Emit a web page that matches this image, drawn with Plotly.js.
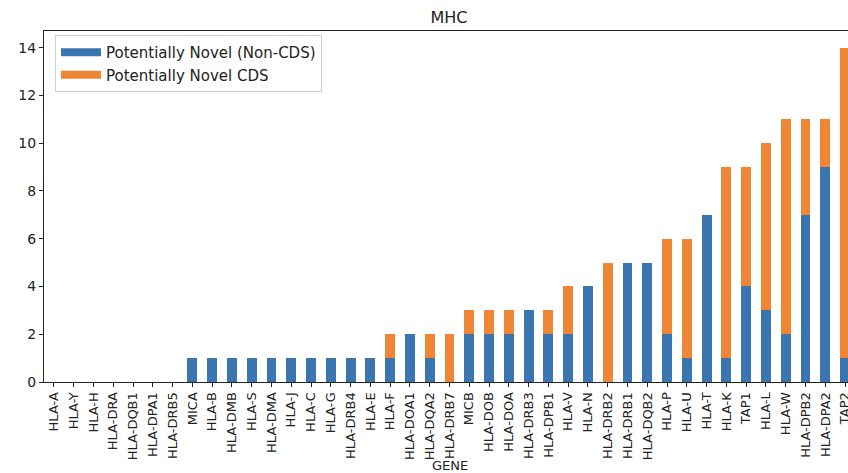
<!DOCTYPE html>
<html>
<head>
<meta charset="utf-8">
<script src="https://cdn.plot.ly/plotly-3.0.1.min.js"></script>
<style>
  html, body { margin: 0; padding: 0; background: #ffffff; }
  #chart { width: 848px; height: 473px; }
</style>
</head>
<body>
<div id="chart"></div>
<script>
// Genes of the MHC region, ordered by total count
const genes = [
  "HLA-A", "HLA-Y", "HLA-H", "HLA-DRA", "HLA-DQB1", "HLA-DPA1", "HLA-DRB5",
  "MICA", "HLA-B", "HLA-DMB", "HLA-S", "HLA-DMA", "HLA-J", "HLA-C", "HLA-G",
  "HLA-DRB4", "HLA-E", "HLA-F", "HLA-DOA1", "HLA-DQA2", "HLA-DRB7", "MICB",
  "HLA-DOB", "HLA-DOA", "HLA-DRB3", "HLA-DPB1", "HLA-V", "HLA-N", "HLA-DRB2",
  "HLA-DRB1", "HLA-DQB2", "HLA-P", "HLA-U", "HLA-T", "HLA-K", "TAP1", "HLA-L",
  "HLA-W", "HLA-DPB2", "HLA-DPA2", "TAP2"
];

// Potentially novel transcripts outside the coding sequence
const nonCds = [
  0, 0, 0, 0, 0, 0, 0,
  1, 1, 1, 1, 1, 1, 1, 1,
  1, 1, 1, 2, 1, 0, 2,
  2, 2, 3, 2, 2, 4, 0,
  5, 5, 2, 1, 7, 1, 4, 3,
  2, 7, 9, 1
];

// Potentially novel transcripts within the coding sequence
const cds = [
  0, 0, 0, 0, 0, 0, 0,
  0, 0, 0, 0, 0, 0, 0, 0,
  0, 0, 1, 0, 1, 2, 1,
  1, 1, 0, 1, 2, 0, 5,
  0, 0, 4, 5, 0, 8, 5, 7,
  9, 4, 2, 13
];

const seriesNames = ["Potentially Novel (Non-CDS)", "Potentially Novel CDS"];
const colors = ["#3a75b0", "#ef8636"];

const W = 848, H = 473;
const margin = { l: 44, r: 0, t: 31, b: 91 };
const plotW = W - margin.l - margin.r;
const plotH = H - margin.t - margin.b;
const font = "DejaVu Sans, sans-serif";

const traces = [
  {
    type: "bar", x: genes, y: nonCds, width: 0.5,
    name: seriesNames[0], marker: { color: colors[0], line: { width: 0 } },
    showlegend: false, hoverinfo: "x+y+name"
  },
  {
    type: "bar", x: genes, y: cds, width: 0.5,
    name: seriesNames[1], marker: { color: colors[1], line: { width: 0 } },
    showlegend: false, hoverinfo: "x+y+name"
  },
  // Legend entries drawn as wide patches
  {
    type: "scatter", mode: "lines", x: [null], y: [null],
    name: seriesNames[0], line: { color: colors[0], width: 8 }, hoverinfo: "skip"
  },
  {
    type: "scatter", mode: "lines", x: [null], y: [null],
    name: seriesNames[1], line: { color: colors[1], width: 8 }, hoverinfo: "skip"
  }
];

const layout = {
  width: W, height: H,
  margin: margin,
  barmode: "stack",
  paper_bgcolor: "#ffffff",
  plot_bgcolor: "#ffffff",
  font: { family: font, color: "#222222", size: 12 },
  title: {
    text: "MHC",
    font: { family: font, size: 16, color: "#222222" },
    x: 449 / W, xref: "container", xanchor: "center",
    y: 1 - 17.5 / H, yref: "container", yanchor: "middle"
  },
  xaxis: {
    type: "category",
    range: [-0.5, -0.5 + (W - margin.l) / 19.78],
    showgrid: false, zeroline: false,
    showline: true, linecolor: "#222222", linewidth: 1, mirror: true,
    ticks: "outside", ticklen: 4, tickcolor: "#222222",
    tickangle: -90,
    tickfont: { family: font, size: 13, color: "#222222" },
    automargin: false
  },
  yaxis: {
    range: [0, 14.7],
    tickvals: [0, 2, 4, 6, 8, 10, 12, 14],
    showgrid: false, zeroline: false,
    showline: true, linecolor: "#222222", linewidth: 1,
    ticks: "outside", ticklen: 4, tickcolor: "#222222",
    tickfont: { family: font, size: 14, color: "#222222" },
    automargin: false
  },
  legend: {
    x: (55 - margin.l) / plotW, xanchor: "left",
    y: 1 - 4 / plotH, yanchor: "top",
    traceorder: "normal",
    bgcolor: "rgba(255,255,255,0.85)",
    bordercolor: "#d0d0d0", borderwidth: 1,
    font: { family: font, size: 15, color: "#222222" },
    itemwidth: 40,
    tracegroupgap: 0
  },
  annotations: [
    {
      text: "GENE", showarrow: false,
      xref: "paper", x: (450 - margin.l) / plotW, xanchor: "center",
      yref: "paper", y: -(465 - (margin.t + plotH)) / plotH, yanchor: "middle",
      font: { family: font, size: 13, color: "#222222" }
    }
  ],
  showlegend: true
};

Plotly.newPlot("chart", traces, layout, { displayModeBar: false, staticPlot: true });
</script>
</body>
</html>
